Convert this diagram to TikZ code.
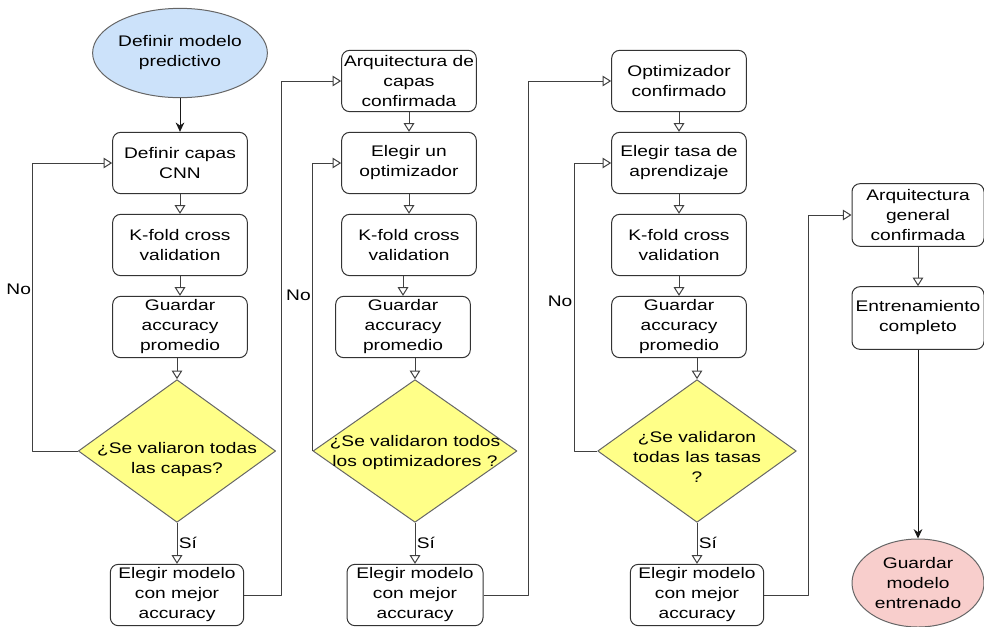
\documentclass[tikz,border=0pt]{standalone}
\usepackage{fontspec}
\setmainfont[FakeStretch=1.25]{Liberation Sans}
\usetikzlibrary{shapes.geometric,arrows.meta}
\definecolor{azul}{RGB}{204,226,250}
\definecolor{amarillo}{RGB}{255,255,136}
\definecolor{rosa}{RGB}{248,206,204}
\begin{document}
\begin{tikzpicture}[x=0.75pt,y=-0.75pt,line join=round,line width=0.75pt,font=\fontsize{11.5}{15}\selectfont,
	caja/.style={draw=black!80,rounded corners=6pt,align=center,inner sep=0pt,minimum width=101pt,minimum height=46pt},
	elip/.style={draw=black!60,ellipse,align=center,inner sep=0pt},
	deci/.style={draw=black!60,fill=amarillo,diamond,inner sep=0pt,minimum height=107pt},
	texto/.style={align=center,inner sep=0pt},
	rot/.style={inner sep=1pt},
	flecha/.style={draw=black!75,-{Triangle[open,length=6.5pt,width=8pt]}},
	llena/.style={draw=black!90,-{Stealth[length=7pt,width=6.5pt]}}]
	\useasboundingbox (0,0) rectangle (984,626);
	% columna 1
	\node[elip,fill=azul,minimum width=110pt,minimum height=67pt] (e1) at (180,53) {Definir modelo\\predictivo};
	\node[caja] (b11) at (180,163) {Definir capas\\CNN};
	\node[caja] (b12) at (180,245) {K-fold cross\\validation};
	\node[caja] (b13) at (180,327) {Guardar\\accuracy\\promedio};
	\node[deci,minimum width=148pt] (d1) at (177,451) {};
	\node[texto] (t1) at (177,460) {¿Se valiaron todas\\las capas?};
	\node[caja,minimum width=100pt] (b14) at (177,595) {Elegir modelo\\con mejor\\accuracy};
	% columna 2
	\node[caja] (b21) at (409,81) {Arquitectura de\\capas\\confirmada};
	\node[caja] (b22) at (409,163) {Elegir un\\optimizador};
	\node[caja] (b23) at (409,245) {K-fold cross\\validation};
	\node[caja] (b24) at (403,327) {Guardar\\accuracy\\promedio};
	\node[deci,minimum width=153pt] (d2) at (415,451) {};
	\node[texto] (t2) at (415,453) {¿Se validaron todos\\los optimizadores ?};
	\node[caja,minimum width=102pt] (b25) at (415,595) {Elegir modelo\\con mejor\\accuracy};
	% columna 3
	\node[caja] (b31) at (679,81) {Optimizador\\confirmado};
	\node[caja] (b32) at (679,163) {Elegir tasa de\\aprendizaje};
	\node[caja] (b33) at (679,245) {K-fold cross\\validation};
	\node[caja] (b34) at (679,327) {Guardar\\accuracy\\promedio};
	\node[deci,minimum width=149pt] (d3) at (697,451) {};
	\node[texto] (t3) at (697,457) {¿Se validaron\\todas las tasas\\?};
	\node[caja,minimum width=100pt] (b35) at (697,595) {Elegir modelo\\con mejor\\accuracy};
	% columna 4
	\node[caja,minimum width=99pt,minimum height=47pt] (b41) at (918,215) {Arquitectura\\general\\confirmada};
	\node[caja,minimum width=99pt,minimum height=47pt] (b42) at (918,318) {Entrenamiento\\completo};
	\node[elip,fill=rosa,minimum width=99pt,minimum height=66pt] (e2) at (918,583) {Guardar\\modelo\\entrenado};
	% conexiones
	\draw[llena] (e1) -- (b11);
	\draw[flecha] (b11) -- (b12);
	\draw[flecha] (b12) -- (b13);
	\draw[flecha] (b13.south -| d1.north) -- (d1.north);
	\draw[flecha] (d1.south) -- node[right,rot]{Sí} (b14.north);
	\draw[flecha] (d1.west) -- ++(-45,0) |- node[pos=0.28,left,rot]{No} (b11.west);
	\draw[flecha] (b14.east) -- ++(37,0) |- (b21.west);
	\draw[flecha] (b21) -- (b22);
	\draw[flecha] (b22) -- (b23);
	\draw[flecha] (b23.south -| b24.north) -- (b24.north);
	\draw[flecha] (b24.south -| d2.north) -- (d2.north);
	\draw[flecha] (d2.south) -- node[right,rot]{Sí} (b25.north);
	\draw[flecha] (d2.west) |- node[pos=0.27,left,rot]{No} (b22.west);
	\draw[flecha] (b25.east) -- ++(45,0) |- (b31.west);
	\draw[flecha] (b31) -- (b32);
	\draw[flecha] (b32) -- (b33);
	\draw[flecha] (b33) -- (b34);
	\draw[flecha] (b34.south -| d3.north) -- (d3.north);
	\draw[flecha] (d3.south) -- node[right,rot]{Sí} (b35.north);
	\draw[flecha] (d3.west) -- ++(-23,0) |- node[pos=0.26,left,rot]{No} (b32.west);
	\draw[flecha] (b35.east) -- ++(44,0) |- (b41.west);
	\draw[flecha] (b41) -- (b42);
	\draw[llena] (b42) -- (e2);
\end{tikzpicture}
\end{document}
